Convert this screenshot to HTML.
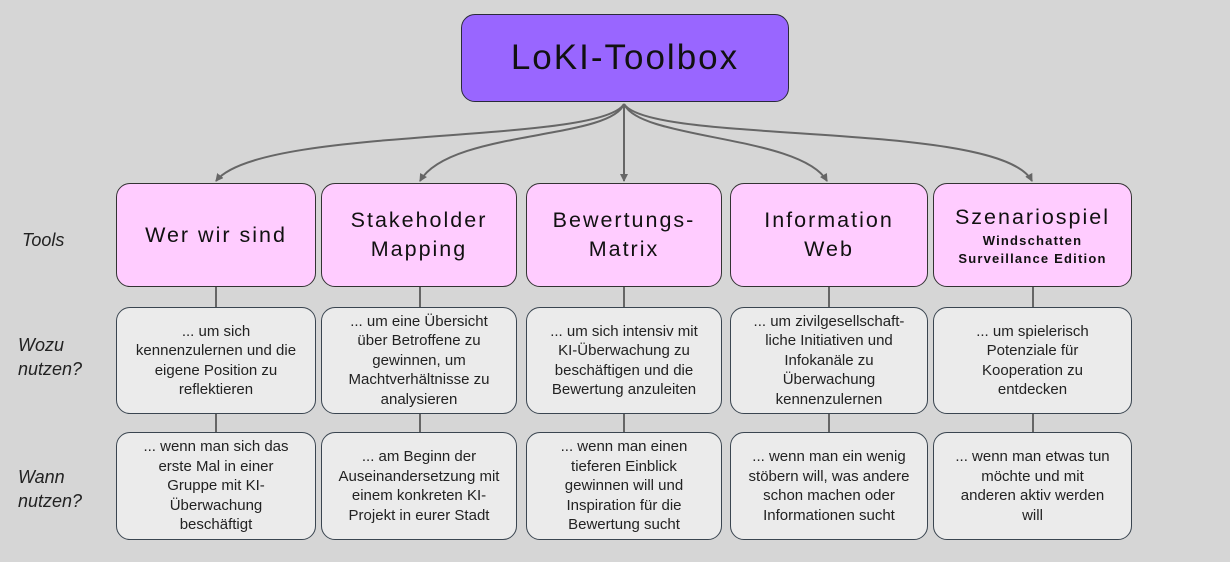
<!DOCTYPE html>
<html><head><meta charset="utf-8"><style>
body{margin:0;width:1230px;height:562px;background:#d6d6d6;position:relative;overflow:hidden;font-family:"Liberation Sans",sans-serif;}
.b{position:absolute;box-sizing:border-box;display:flex;align-items:center;justify-content:center;text-align:center;flex-direction:column;}
.top{left:461px;top:14px;width:328px;height:88px;background:#9966ff;border:1px solid #2a2a3a;border-radius:14px;font-size:35px;letter-spacing:2px;color:#111;}
.t{top:183px;height:104px;background:#ffccff;border:1px solid #333;border-radius:14px;font-size:21.5px;letter-spacing:2px;line-height:29px;color:#111;}
.g{background:#ebebeb;border:1px solid #3a4550;border-radius:14px;font-size:15px;line-height:19.5px;color:#222;padding:0 4px;}
.w{top:307px;height:107px;}
.n{top:432px;height:108px;}
.l{position:absolute;left:18px;font-style:italic;font-size:18px;line-height:24px;color:#222;}
.v{position:absolute;width:2px;background:#666;}
small{font-size:13px;line-height:18px;letter-spacing:1.2px;font-weight:bold;}
</style></head><body>
<svg width="1230" height="562" style="position:absolute;left:0;top:0">
<defs><marker id="a" markerWidth="8" markerHeight="8" refX="7" refY="4" orient="auto" markerUnits="userSpaceOnUse"><path d="M0,0 L8,4 L0,8 z" fill="#666"/></marker></defs>
<g stroke="#666" stroke-width="2" fill="none" marker-end="url(#a)">
<path d="M624,104 C600,145 260,125 216,181"/>
<path d="M624,104 C610,140 450,130 420,181"/>
<path d="M624,104 L624,181"/>
<path d="M624,104 C640,140 800,135 827,181"/>
<path d="M624,104 C650,145 1000,120 1032,181"/>
</g></svg>
<div class="b top">LoKI-Toolbox</div>
<div class="l" style="top:228px;left:22px">Tools</div>
<div class="l" style="top:333px">Wozu<br>nutzen?</div>
<div class="l" style="top:465px">Wann<br>nutzen?</div>

<div class="v" style="left:215px;top:287px;height:145px"></div>
<div class="v" style="left:419px;top:287px;height:145px"></div>
<div class="v" style="left:623px;top:287px;height:145px"></div>
<div class="v" style="left:828px;top:287px;height:145px"></div>
<div class="v" style="left:1032px;top:287px;height:145px"></div>

<div class="b t" style="left:116px;width:200px">Wer wir sind</div>
<div class="b t" style="left:321px;width:196px">Stakeholder<br>Mapping</div>
<div class="b t" style="left:526px;width:196px">Bewertungs-<br>Matrix</div>
<div class="b t" style="left:730px;width:198px">Information<br>Web</div>
<div class="b t" style="left:933px;width:199px"><span>Szenariospiel</span><small>Windschatten<br>Surveillance Edition</small></div>

<div class="b g w" style="left:116px;width:200px">... um sich<br>kennenzulernen und die<br>eigene Position zu<br>reflektieren</div>
<div class="b g w" style="left:321px;width:196px">... um eine Übersicht<br>über Betroffene zu<br>gewinnen, um<br>Machtverhältnisse zu<br>analysieren</div>
<div class="b g w" style="left:526px;width:196px">... um sich intensiv mit<br>KI-Überwachung zu<br>beschäftigen und die<br>Bewertung anzuleiten</div>
<div class="b g w" style="left:730px;width:198px">... um zivilgesellschaft-<br>liche Initiativen und<br>Infokanäle zu<br>Überwachung<br>kennenzulernen</div>
<div class="b g w" style="left:933px;width:199px">... um spielerisch<br>Potenziale für<br>Kooperation zu<br>entdecken</div>

<div class="b g n" style="left:116px;width:200px">... wenn man sich das<br>erste Mal in einer<br>Gruppe mit KI-<br>Überwachung<br>beschäftigt</div>
<div class="b g n" style="left:321px;width:196px">... am Beginn der<br>Auseinandersetzung mit<br>einem konkreten KI-<br>Projekt in eurer Stadt</div>
<div class="b g n" style="left:526px;width:196px">... wenn man einen<br>tieferen Einblick<br>gewinnen will und<br>Inspiration für die<br>Bewertung sucht</div>
<div class="b g n" style="left:730px;width:198px">... wenn man ein wenig<br>stöbern will, was andere<br>schon machen oder<br>Informationen sucht</div>
<div class="b g n" style="left:933px;width:199px">... wenn man etwas tun<br>möchte und mit<br>anderen aktiv werden<br>will</div>
</body></html>
